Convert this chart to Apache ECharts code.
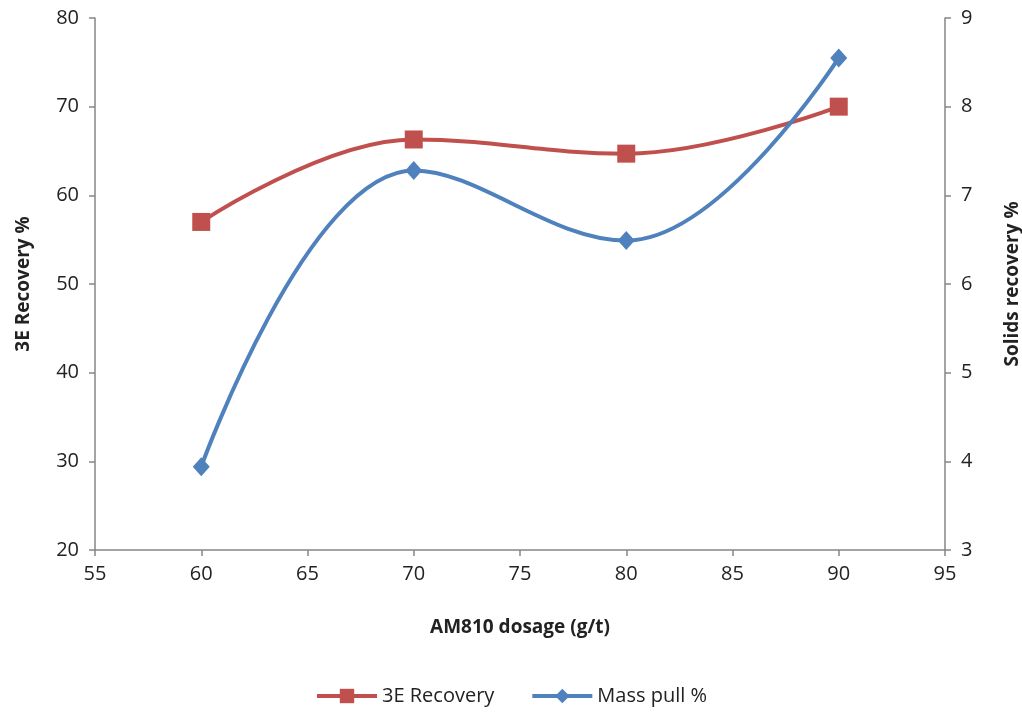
<!DOCTYPE html>
<html><head><meta charset="utf-8">
<script src="https://cdn.jsdelivr.net/npm/echarts@6/dist/echarts.min.js"></script>
<style>html,body{margin:0;padding:0;background:#fff}#c{width:1022px;height:713px}</style>
</head><body><div id="c"></div>
<script>
const dosage = [60, 70, 80, 90];
const recovery3E = [57.0, 66.3, 64.7, 70.0];
const massPull = [3.94, 7.28, 6.49, 8.55];
const xTicks = [55, 95, 5];
const leftTicks = [20, 80, 10];
const rightTicks = [3, 9, 1];

const font = '"Open Sans", sans-serif';
const axisLine = {show: true, lineStyle: {color: '#868686', width: 1.5}};
const axisTick = {show: true, length: 6, lineStyle: {color: '#868686', width: 1.5}};
const lbl = {color: '#222', fontSize: 20, fontFamily: font};
const titleStyle = {fontSize: 19, fontWeight: 'bold', fontFamily: font, color: '#222'};
const chart = echarts.init(document.getElementById('c'));
chart.setOption({
  backgroundColor: '#fff',
  animation: false,
  grid: {left: 95, right: 77, top: 18, bottom: 163, containLabel: false, outerBoundsMode: 'none'},
  legend: {
    bottom: 2, left: 'center', itemGap: 36, itemWidth: 60, itemHeight: 18,
    lineStyle: {width: 4},
    textStyle: {fontSize: 20, fontFamily: font, color: '#222'},
    data: ['3E Recovery', 'Mass pull %']
  },
  xAxis: {
    type: 'value', min: xTicks[0], max: xTicks[1], interval: xTicks[2],
    name: 'AM810 dosage (g/t)', nameLocation: 'middle', nameGap: 68,
    nameTextStyle: titleStyle,
    axisLine: axisLine, axisTick: axisTick, splitLine: {show: false},
    axisLabel: Object.assign({margin: 14}, lbl)
  },
  yAxis: [{
    type: 'value', min: leftTicks[0], max: leftTicks[1], interval: leftTicks[2],
    name: '3E Recovery %', nameLocation: 'middle', nameGap: 62,
    nameTextStyle: titleStyle,
    axisLine: axisLine, axisTick: axisTick, splitLine: {show: false},
    axisLabel: Object.assign({margin: 16}, lbl)
  }, {
    type: 'value', min: rightTicks[0], max: rightTicks[1], interval: rightTicks[2],
    position: 'right',
    name: 'Solids recovery %', nameLocation: 'middle', nameGap: 58, nameRotate: 90,
    nameTextStyle: titleStyle,
    axisLine: axisLine, axisTick: axisTick, splitLine: {show: false},
    axisLabel: Object.assign({margin: 16}, lbl)
  }],
  series: [{
    name: '3E Recovery', type: 'line', yAxisIndex: 0, smooth: 0.4,
    data: dosage.map((d, i) => [d, recovery3E[i]]),
    symbol: 'rect', symbolSize: 18,
    lineStyle: {color: '#C0504D', width: 4},
    itemStyle: {color: '#C0504D'}
  }, {
    name: 'Mass pull %', type: 'line', yAxisIndex: 1, smooth: 0.4,
    data: dosage.map((d, i) => [d, massPull[i]]),
    symbol: 'diamond', symbolSize: [17, 19],
    lineStyle: {color: '#4F81BD', width: 4},
    itemStyle: {color: '#4F81BD'}
  }]
});
</script></body></html>
